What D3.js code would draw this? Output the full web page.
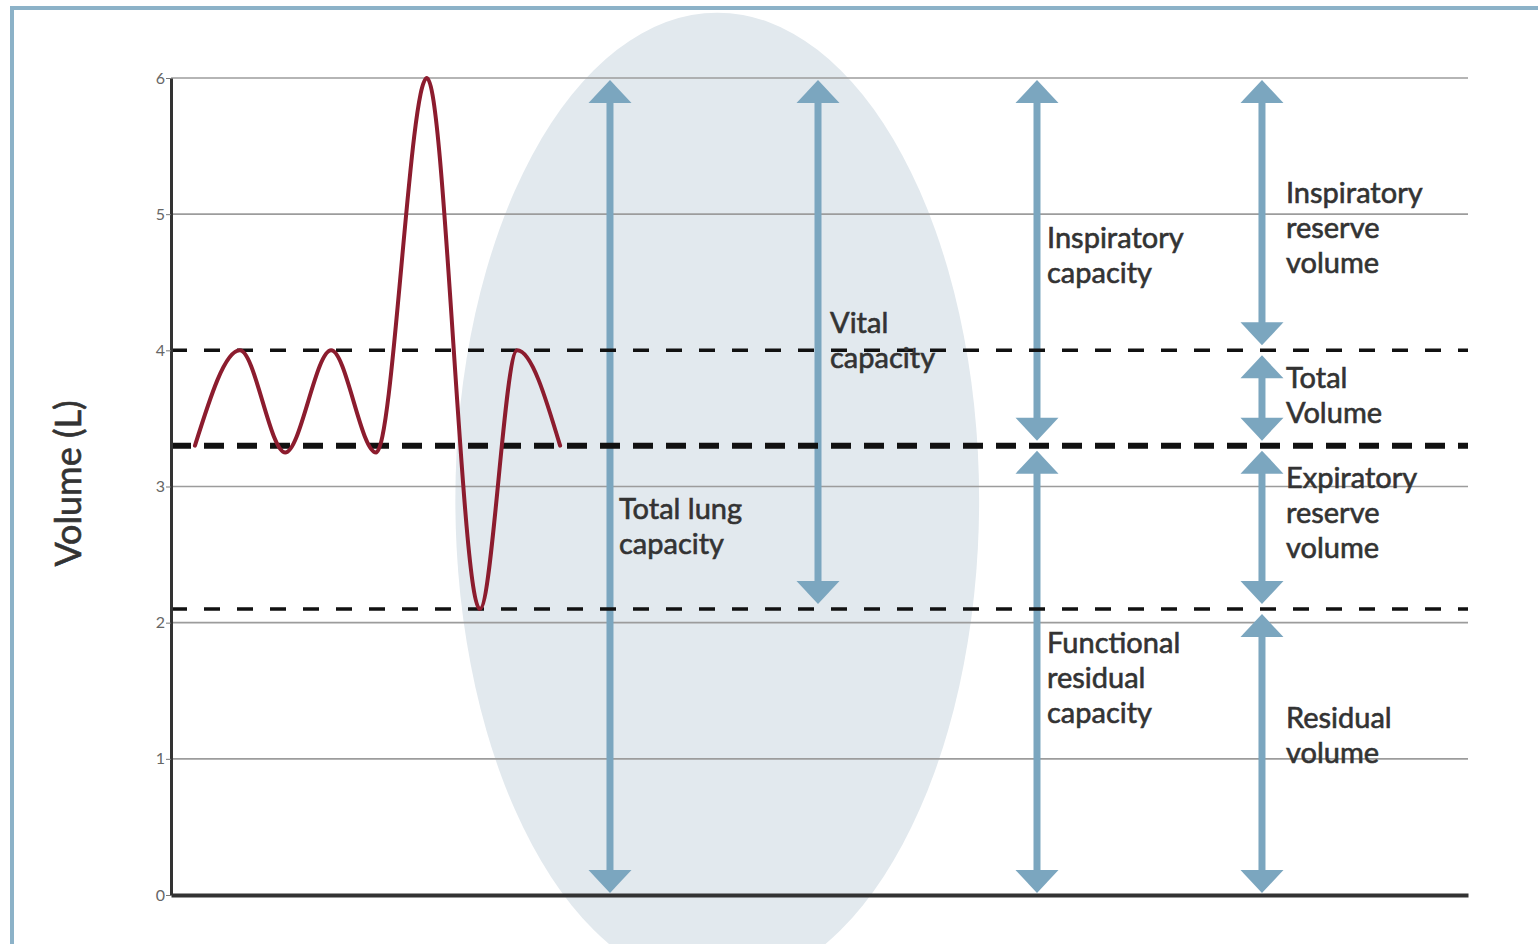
<!DOCTYPE html>
<html lang="en">
<head>
  <meta charset="utf-8">
  <script src="https://d3js.org/d3.v7.min.js"></script>
  <style>
    body { margin: 0; background: #fff; }
    text { font-family: Lato, "Open Sans", sans-serif; }
  </style>
</head>
<body>
<script>
  // y axis ticks (litres)
  const yTicks = [0, 1, 2, 3, 4, 5, 6];
  // breathing trace: time (s) and volume (L)
  const breathT = [0.48, 1.38, 2.29, 3.21, 4.11, 5.13, 6.19, 6.94, 7.8];
  const breathV = [3.3, 4.0, 3.25, 4.0, 3.25, 6.0, 2.1, 4.0, 3.3];
  // dashed reference levels (L)
  const levels = [4.0, 3.3, 2.1];
  const restLevel = 3.3;
  // arrow columns (time position) and arrow spans
  const columns = [8.8, 12.97, 17.36, 21.87];
  const arrowCol = [0, 1, 2, 2, 3, 3, 3, 3];
  const arrowFrom = [0, 2.1, 3.3, 0, 4.0, 3.3, 2.1, 0];
  const arrowTo = [6, 6, 6, 3.3, 6, 4.0, 3.3, 2.1];
  // labels: column, first-baseline volume, lines
  const labelCol = [0, 1, 2, 2, 3, 3, 3, 3];
  const labelV = [2.76, 4.13, 4.75, 1.78, 5.08, 3.72, 2.99, 1.23];
  const labelLines = [
    ["Total lung", "capacity"],
    ["Vital", "capacity"],
    ["Inspiratory", "capacity"],
    ["Functional", "residual", "capacity"],
    ["Inspiratory", "reserve", "volume"],
    ["Total", "Volume"],
    ["Expiratory", "reserve", "volume"],
    ["Residual", "volume"]
  ];
  // shaded ellipse (centre time, centre volume, radii)
  const ellipseC = [10.95, 2.9];
  const ellipseR = [5.25, 3.58];

  const W = 1538, H = 944;
  const margin = {left: 171, top: 78, right: 70, bottom: 49};
  const labelDx = [9, 12, 10, 24];
  const lineGap = 35;
  const arrowBlue = "#7ba6bf";
  const ink = "#333";

  const svg = d3.select("body").append("svg")
    .attr("width", W).attr("height", H);

  const x = d3.scaleLinear().domain([0, 26]).range([margin.left, W - margin.right]);
  const y = d3.scaleLinear().domain([0, 6]).range([H - margin.bottom, margin.top]);

  // frame
  svg.append("rect")
    .attr("x", 12).attr("y", 8).attr("width", W).attr("height", H)
    .attr("fill", "none").attr("stroke", "#8cb2c8").attr("stroke-width", 4);

  // ellipse
  svg.append("ellipse")
    .attr("cx", x(ellipseC[0])).attr("cy", y(ellipseC[1]))
    .attr("rx", x(ellipseR[0]) - x(0)).attr("ry", y(0) - y(ellipseR[1]))
    .attr("fill", "#e2e9ee");

  // grid lines
  svg.append("g").selectAll("line")
    .data(yTicks.filter(d => d > 0 && !levels.includes(d)))
    .join("line")
    .attr("x1", x(0)).attr("x2", x(26))
    .attr("y1", d => y(d)).attr("y2", d => y(d))
    .attr("stroke", "#9c9c9c").attr("stroke-width", 1.6);

  // arrows
  const arrows = arrowCol.map((c, i) => ({c: c, from: arrowFrom[i], to: arrowTo[i]}));
  const gap = v => (v === 0 || v === 6) ? 2 : 5;
  const headH = 23, headW = 43;
  const ag = svg.append("g");
  arrows.forEach(a => {
    const cx = x(columns[a.c]);
    const yb = y(a.from) - gap(a.from);
    const yt = y(a.to) + gap(a.to);
    ag.append("line")
      .attr("x1", cx).attr("x2", cx)
      .attr("y1", yb - headH + 2).attr("y2", yt + headH - 2)
      .attr("stroke", arrowBlue).attr("stroke-width", 7);
    ag.append("path")
      .attr("d", `M${cx},${yt} L${cx - headW / 2},${yt + headH} L${cx + headW / 2},${yt + headH} Z`)
      .attr("fill", arrowBlue);
    ag.append("path")
      .attr("d", `M${cx},${yb} L${cx - headW / 2},${yb - headH} L${cx + headW / 2},${yb - headH} Z`)
      .attr("fill", arrowBlue);
  });

  // dashed levels
  svg.append("g").selectAll("line")
    .data(levels)
    .join("line")
    .attr("x1", x(0)).attr("x2", x(26))
    .attr("y1", d => y(d)).attr("y2", d => y(d))
    .attr("stroke", "#111")
    .attr("stroke-width", d => d === restLevel ? 6 : 3.5)
    .attr("stroke-dasharray", d => d === restLevel ? "20,13" : "16,17");

  // breathing trace
  const breath = breathT.map((t, i) => ({t: t, v: breathV[i]}));
  svg.append("path")
    .datum(breath)
    .attr("fill", "none").attr("stroke", "#8c1c2e").attr("stroke-width", 4)
    .attr("stroke-linecap", "round")
    .attr("d", d3.line().x(d => x(d.t)).y(d => y(d.v)).curve(d3.curveMonotoneX));

  // axes
  const yAxis = svg.append("g")
    .attr("transform", `translate(${margin.left},0)`)
    .call(d3.axisLeft(y).tickValues(yTicks).tickFormat(d3.format("d"))
      .tickSize(5).tickSizeOuter(0).tickPadding(1));
  yAxis.select(".domain").attr("stroke", ink).attr("stroke-width", 3);
  yAxis.selectAll(".tick line").attr("stroke", "#777");
  yAxis.selectAll(".tick text")
    .attr("fill", "#666").style("font-size", "16px")
    .style("font-family", "Lato, sans-serif");

  const xAxis = svg.append("g")
    .attr("transform", `translate(0,${y(0)})`)
    .call(d3.axisBottom(x).ticks(0).tickSizeOuter(0));
  xAxis.select(".domain").attr("stroke", ink).attr("stroke-width", 4);

  svg.append("text")
    .attr("transform", `translate(72,${(y(0) + y(6)) / 2 - 3}) rotate(-90)`)
    .attr("text-anchor", "middle").attr("dominant-baseline", "middle")
    .attr("fill", ink).attr("stroke", ink).attr("stroke-width", 0.6)
    .style("font-size", "36px")
    .text("Volume (L)");

  // labels, one text per line
  const lg = svg.append("g");
  labelLines.forEach((lines, i) => {
    const lx = x(columns[labelCol[i]]) + labelDx[labelCol[i]];
    lines.forEach((s, j) => {
      lg.append("text")
        .attr("x", lx)
        .attr("y", y(labelV[i]) + j * lineGap)
        .attr("fill", ink).attr("stroke", ink).attr("stroke-width", 0.6)
        .style("font-size", "29px")
        .text(s);
    });
  });
</script>
</body>
</html>
